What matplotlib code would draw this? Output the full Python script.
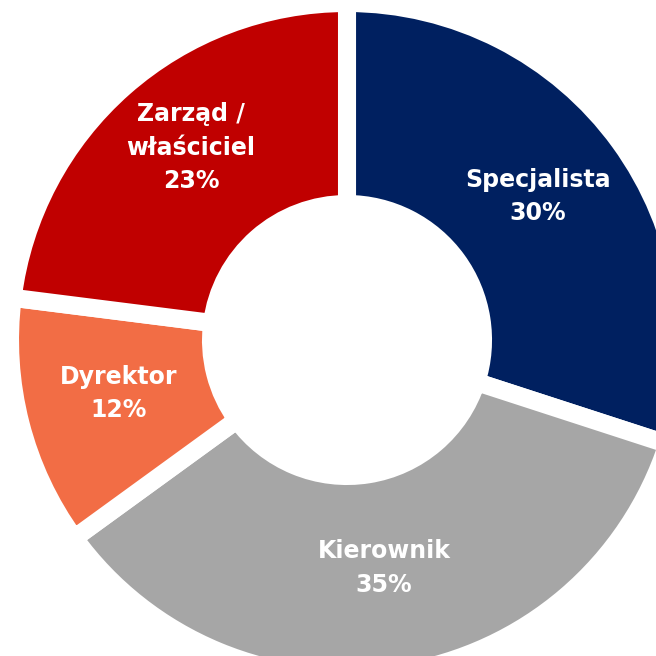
import matplotlib
matplotlib.use("Agg")
import matplotlib.pyplot as plt
import numpy as np

categories = ["Specjalista", "Kierownik", "Dyrektor", "Zarząd /\nwłaściciel"]
values = [30, 35, 12, 23]
colors = ["#002060", "#A6A6A6", "#F26D45", "#C00000"]

W, H = 656, 656
R_px = 337.0
cx, cy = 347.0, 340.0

fig = plt.figure(figsize=(W / 100, H / 100), dpi=100)
ax = fig.add_axes([0, 0, 1, 1])
wedges, _ = ax.pie(values, colors=colors, startangle=90, counterclock=False,
                   radius=1.0,
                   wedgeprops=dict(width=201 / R_px, edgecolor="white", linewidth=13))
ax.set_xlim(-cx / R_px, (W - cx) / R_px)
ax.set_ylim(-(H - cy) / R_px, cy / R_px)
ax.set_aspect("equal")
ax.axis("off")

total = sum(values)
start = 90.0
for cat, v in zip(categories, values):
    span = 360.0 * v / total
    mid = np.deg2rad(start - span / 2)
    start -= span
    r = 0.70
    nlines = cat.count("\n") + 2
    dy = 0.015 + (nlines - 2) * 0.03
    ax.text(r * np.cos(mid), r * np.sin(mid) + dy, f"{cat}\n{v}%", ha="center", va="center",
            color="white", fontsize=17, fontweight="bold", family="DejaVu Sans",
            linespacing=1.5)

fig.savefig("out.png", dpi=100)
